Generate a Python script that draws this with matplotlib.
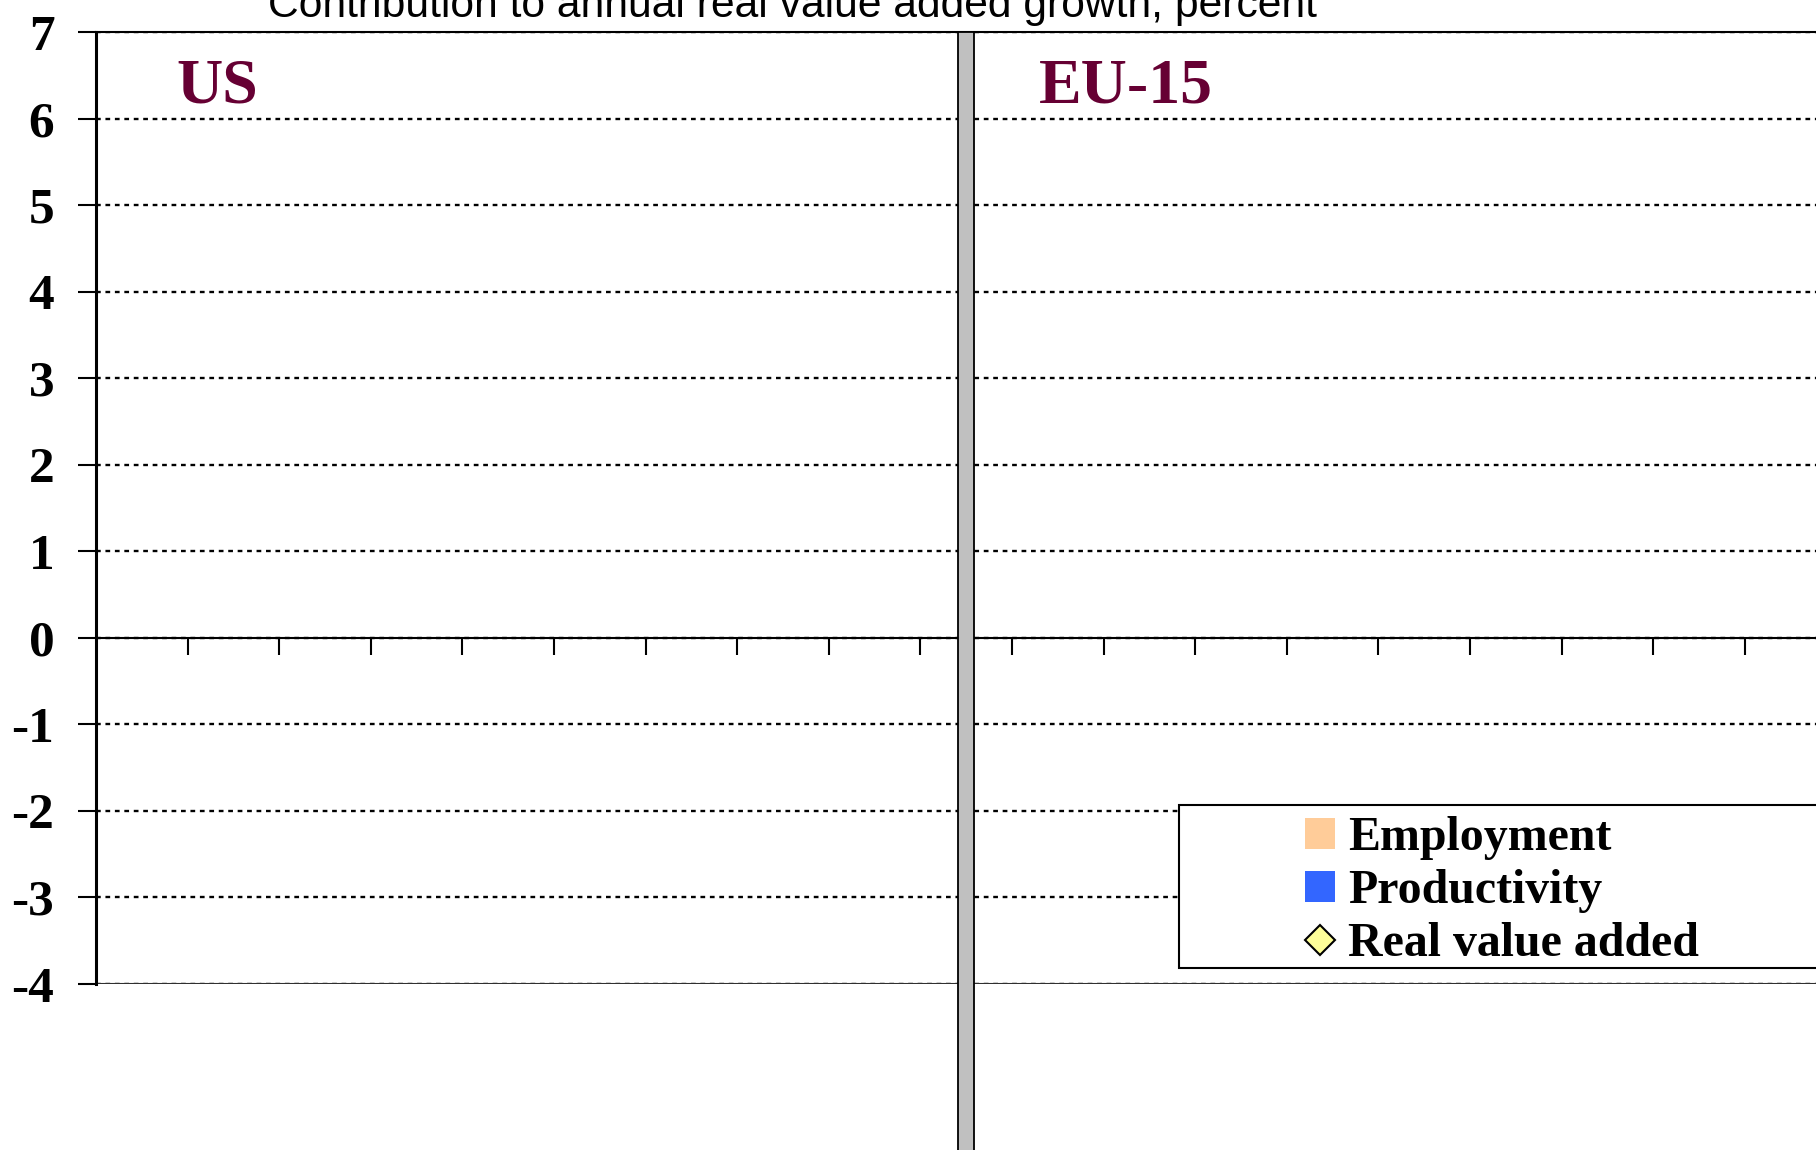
import matplotlib
matplotlib.use("Agg")
import matplotlib.pyplot as plt
from matplotlib.patches import Patch, Rectangle
from matplotlib.lines import Line2D

# ---- data -----------------------------------------------------------------
n_slots = 20                      # category slots along x (chart runs past the right edge)
y_ticks = list(range(-4, 8))
y_labels = [str(v) for v in y_ticks]
separator_slot = [9]              # grey column splitting US / EU-15
separator_top = [7]
separator_bottom = [-8]
panel_names = ["US", "EU-15"]
panel_slot = [0.88, 10.29]
series_names = ["Employment", "Productivity", "Real value added"]
series_colors = ["#FFCC99", "#3366FF", "#FFFF99"]
title = "Contribution to annual real value added growth, percent"

SERIF = ["Liberation Serif", "DejaVu Serif"]
SANS = ["Liberation Sans", "DejaVu Sans"]
MAROON = "#660033"

W, H = 1816, 1150
fig = plt.figure(figsize=(W / 100, H / 100), dpi=100)
ax = fig.add_axes([96 / W, 1 - 984 / H, (n_slots * 91.6) / W, (984 - 32) / H])

ax.set_xlim(0, n_slots)
ax.set_ylim(-4, 7)

# grid
for y in y_ticks:
    ax.axhline(y, color="black", lw=1.7, ls=(0, (2, 2)), zorder=1)
ax.axhline(-4, color="#303030", lw=1.5, zorder=1)

# separator column
ax.bar([s + 0.5 for s in separator_slot],
       [t - b for t, b in zip(separator_top, separator_bottom)],
       bottom=separator_bottom, width=0.175, color="#C0C0C0",
       edgecolor="black", linewidth=1.3, zorder=3, clip_on=False)

# spines / axes
ax.spines["right"].set_visible(False)
ax.spines["top"].set_linewidth(1.5)
ax.spines["left"].set_linewidth(2.2)
ax.spines["bottom"].set_position(("data", 0))
ax.spines["bottom"].set_linewidth(1.5)
ax.spines["bottom"].set_zorder(2)

ax.set_xticks(range(1, n_slots))
ax.tick_params(axis="x", direction="out", length=12, width=1.5, labelbottom=False)
ax.set_yticks(y_ticks)
ax.set_yticklabels(y_labels)
ax.tick_params(axis="y", direction="out", length=13, width=1.5, pad=17)
for t in ax.get_yticklabels():
    t.set_fontfamily(SERIF)
    t.set_fontweight("bold")
    t.set_fontsize(37)

# panel names
for name, x in zip(panel_names, panel_slot):
    ax.text(x, 6.19, name, color=MAROON, fontsize=46, fontweight="bold",
            family=SERIF, ha="left", va="baseline", zorder=4)

# title (cut at top, as in the source)
fig.text(792 / W, 1 - 17 / H, title, ha="center", va="baseline",
         fontsize=30.7, family=SANS)

# legend box + entries
ax.add_patch(Rectangle((1179 / W, 1 - 968 / H), (1840 - 1179) / W, (968 - 805) / H,
                       transform=fig.transFigure, facecolor="white",
                       edgecolor="black", linewidth=1.5, zorder=4, clip_on=False))
handles = [Patch(facecolor=series_colors[0], edgecolor="none"),
           Patch(facecolor=series_colors[1], edgecolor="none"),
           Line2D([], [], marker="D", ls="none", markersize=15,
                  markerfacecolor=series_colors[2], markeredgecolor="black",
                  markeredgewidth=1.5)]
leg = ax.legend(handles, series_names, loc="upper left",
                bbox_to_anchor=(1305 / W, 1 - 816 / H), bbox_transform=fig.transFigure,
                frameon=False, borderpad=0, borderaxespad=0, labelspacing=0.19,
                handlelength=0.62, handleheight=0.62, handletextpad=0.28,
                prop={"family": SERIF, "weight": "bold", "size": 34.5})
leg.set_zorder(6)

fig.savefig("out.png", dpi=100)
